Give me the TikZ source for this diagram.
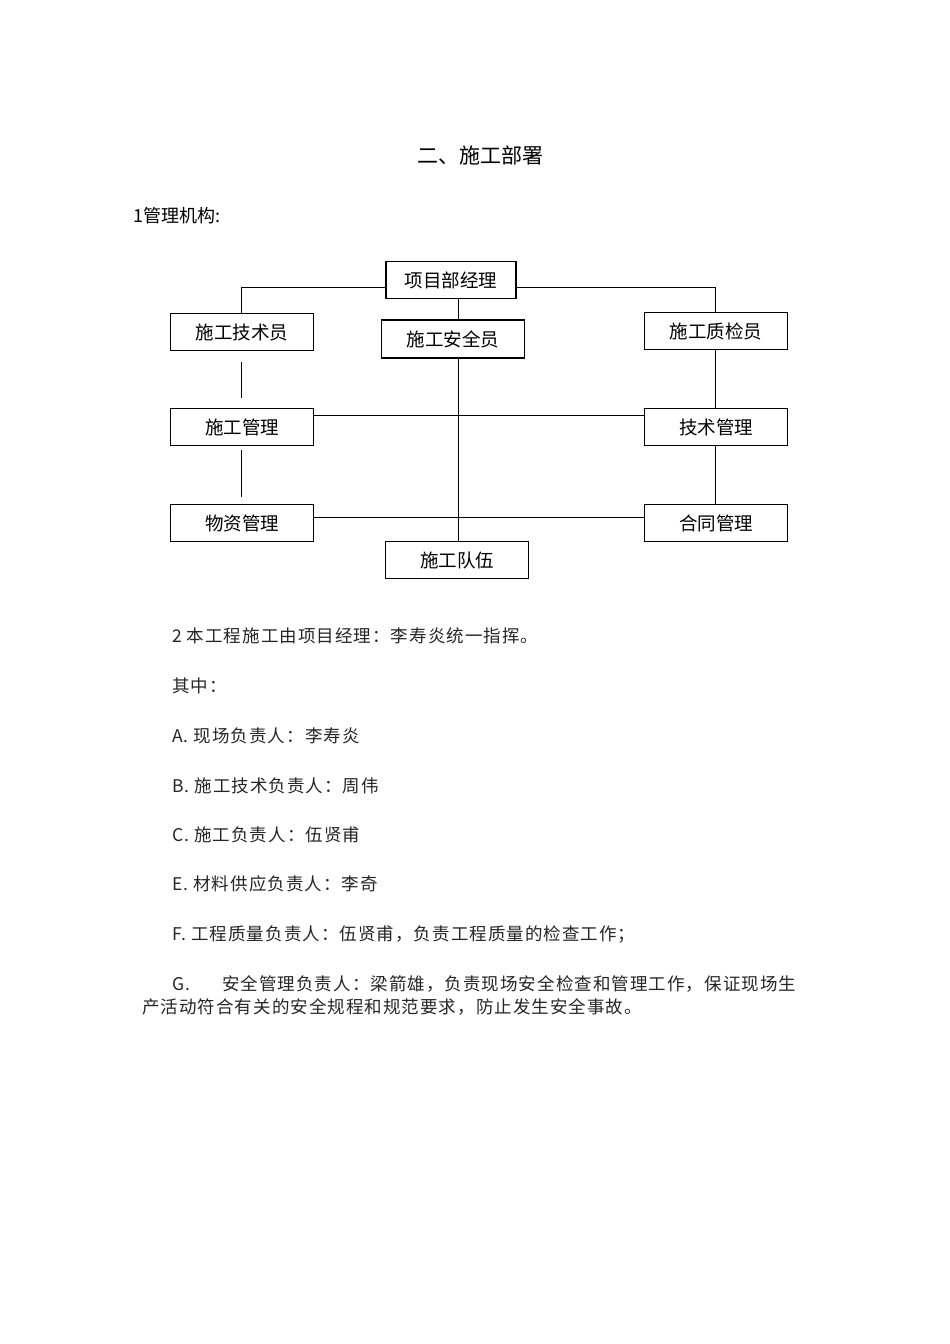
\documentclass[tikz,border=0pt]{standalone}
\usepackage{fontspec}
\setmainfont{Noto Sans CJK SC}
\newfontfamily\cjk{Noto Sans CJK SC}
\newfontfamily\cjkwide[LetterSpace=6]{Noto Sans CJK SC}
\begin{document}
\begin{tikzpicture}[x=1pt,y=-1pt,
  bx/.style={draw,line width=1.2pt,minimum width=143pt,minimum height=37pt,font=\fontsize{18.5}{20}\selectfont,inner sep=0pt},
  ln/.style={line width=1pt},
  para/.style={anchor=west,font=\cjkwide\fontsize{17.5}{20}\selectfont,text=black!85,inner sep=0pt}]
\useasboundingbox[fill=white] (0,0) rectangle (950,1344);
\node[font=\fontsize{21}{24}\selectfont] (title) at (480,155) {二、施工部署};
\node[anchor=west,font=\fontsize{18}{20}\selectfont,inner sep=0pt] (h1) at (133,216) {1管理机构:};
\node[bx,minimum width=130pt] (pm) at (451,280) {项目部经理};
\node[bx] (js) at (242,332) {施工技术员};
\node[bx,line width=1.6pt,minimum height=38pt] (aq) at (453,339) {施工安全员};
\node[bx] (zj) at (716,331) {施工质检员};
\node[bx] (sg) at (242,427) {施工管理};
\node[bx] (jg) at (716,427) {技术管理};
\node[bx] (wz) at (242,523) {物资管理};
\node[bx] (ht) at (716,523) {合同管理};
\node[bx] (dw) at (457,560) {施工队伍};
\coordinate (c1) at (241,287);
\coordinate (c2) at (715,287);
\draw[ln] (pm.west |- c1) -- (c1) -- (c1 |- js.north);
\draw[ln] (pm.east |- c2) -- (c2) -- (c2 |- zj.north);
\draw[ln] (pm.south -| 458,0) -- (aq.north -| 458,0);
\coordinate (g1) at (241,362);
\coordinate (g2) at (241,398);
\coordinate (g3) at (241,450);
\coordinate (g4) at (241,497);
\draw[ln] (g1) -- (g2);
\draw[ln] (g3) -- (g4);
\draw[ln] (zj.south -| c2) -- (jg.north -| c2);
\draw[ln] (jg.south -| c2) -- (ht.north -| c2);
\draw[ln] (aq.south -| 458,0) -- (dw.north -| 458,0);
\draw[ln] (sg.east |- 0,415) -- (jg.west |- 0,415);
\draw[ln] (wz.east |- 0,517) -- (ht.west |- 0,517);
\node[para] (p1) at (172,636) {2 本工程施工由项目经理：李寿炎统一指挥。};
\node[para] (p2) at (172,686) {其中：};
\node[para] (p3) at (172,736) {A. 现场负责人：李寿炎};
\node[para] (p4) at (172,786) {B. 施工技术负责人：周伟};
\node[para] (p5) at (172,835) {C. 施工负责人：伍贤甫};
\node[para] (p6) at (172,884) {E. 材料供应负责人：李奇};
\node[para] (p7) at (172,934) {F. 工程质量负责人：伍贤甫，负责工程质量的检查工作；};
\node[para] (p8) at (172,984) {G.\hspace{32pt}安全管理负责人：梁箭雄，负责现场安全检查和管理工作，保证现场生};
\node[para] (p9) at (142,1007) {产活动符合有关的安全规程和规范要求，防止发生安全事故。};
\end{tikzpicture}
\end{document}
